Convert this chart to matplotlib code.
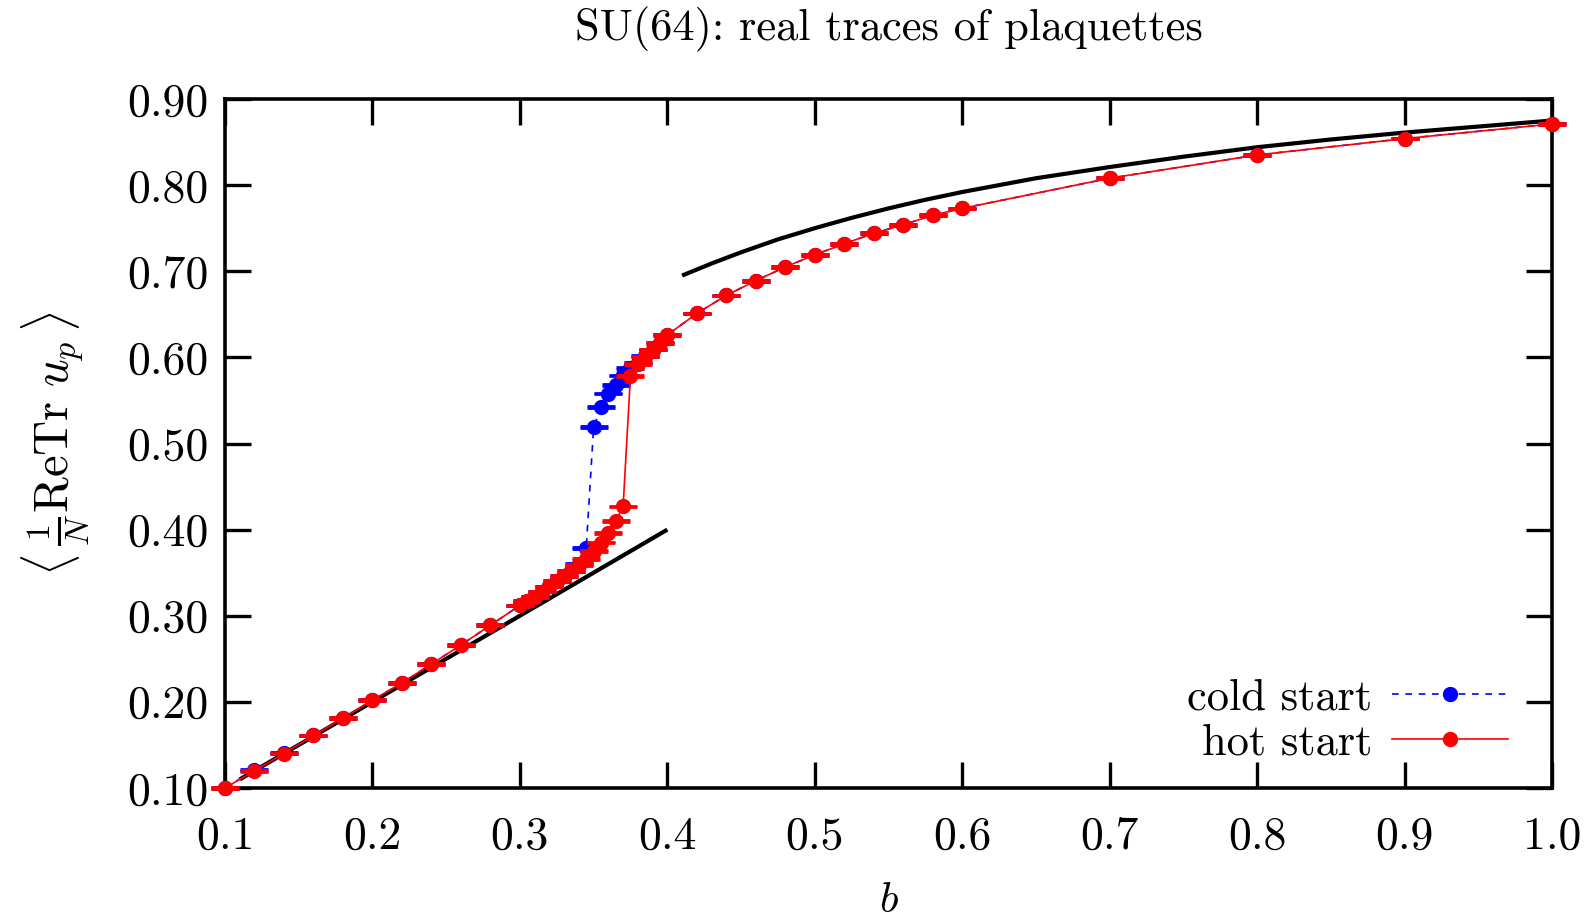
import matplotlib
matplotlib.use("Agg")
import matplotlib.pyplot as plt

plt.rcParams['font.family'] = ['cmr10', 'DejaVu Serif']
plt.rcParams['mathtext.fontset'] = 'cm'
plt.rcParams['axes.unicode_minus'] = False

# ---- data ----
b_hot = [0.10, 0.12, 0.14, 0.16, 0.18, 0.20, 0.22, 0.24, 0.26, 0.28,
         0.300, 0.305, 0.310, 0.315, 0.320, 0.325, 0.330, 0.335, 0.340, 0.345,
         0.350, 0.355, 0.360, 0.365, 0.370, 0.375, 0.380, 0.385, 0.390, 0.395,
         0.40, 0.42, 0.44, 0.46, 0.48, 0.50, 0.52, 0.54, 0.56, 0.58, 0.60,
         0.70, 0.80, 0.90, 1.00]
u_hot = [0.100, 0.120, 0.140, 0.161, 0.181, 0.202, 0.222, 0.244, 0.266, 0.289,
         0.312, 0.317, 0.322, 0.328, 0.334, 0.340, 0.346, 0.352, 0.359, 0.366,
         0.375, 0.385, 0.396, 0.410, 0.427, 0.578, 0.592, 0.601, 0.609, 0.617,
         0.626, 0.651, 0.672, 0.689, 0.705, 0.719, 0.732, 0.744, 0.754, 0.765, 0.773,
         0.808, 0.835, 0.854, 0.871]
e_hot = [0.001] * len(b_hot)

b_cold = [0.10, 0.12, 0.14, 0.16, 0.18, 0.20, 0.22, 0.24, 0.26, 0.28,
          0.300, 0.305, 0.310, 0.315, 0.320, 0.325, 0.330, 0.335, 0.340, 0.345,
          0.350, 0.355, 0.360, 0.365, 0.370, 0.375, 0.380, 0.385, 0.390, 0.395,
          0.40, 0.42, 0.44, 0.46, 0.48, 0.50, 0.52, 0.54, 0.56, 0.58, 0.60,
          0.70, 0.80, 0.90, 1.00]
u_cold = [0.100, 0.121, 0.141, 0.161, 0.181, 0.202, 0.222, 0.244, 0.266, 0.289,
          0.312, 0.317, 0.322, 0.328, 0.334, 0.340, 0.346, 0.352, 0.360, 0.379,
          0.519, 0.542, 0.558, 0.568, 0.579, 0.588, 0.594, 0.602, 0.609, 0.617,
          0.626, 0.651, 0.672, 0.689, 0.705, 0.719, 0.732, 0.744, 0.754, 0.765, 0.773,
          0.808, 0.835, 0.854, 0.871]
e_cold = [0.001] * len(b_cold)

# strong-coupling curve
b_strong = [0.11, 0.20, 0.30, 0.40]
u_strong = [0.11, 0.20, 0.30, 0.40]
# weak-coupling curve
b_weak = [0.41, 0.43, 0.45, 0.475, 0.50, 0.525, 0.55, 0.575, 0.60, 0.65,
          0.70, 0.75, 0.80, 0.85, 0.90, 0.95, 1.00]
u_weak = [0.695, 0.709, 0.722, 0.737, 0.750, 0.762, 0.773, 0.783, 0.792, 0.808,
          0.821, 0.833, 0.844, 0.853, 0.861, 0.868, 0.875]

xticks = [0.1, 0.2, 0.3, 0.4, 0.5, 0.6, 0.7, 0.8, 0.9, 1.0]
xticklabels = ["0.1", "0.2", "0.3", "0.4", "0.5", "0.6", "0.7", "0.8", "0.9", "1.0"]
yticks = [0.10, 0.20, 0.30, 0.40, 0.50, 0.60, 0.70, 0.80, 0.90]
yticklabels = ["0.10", "0.20", "0.30", "0.40", "0.50", "0.60", "0.70", "0.80", "0.90"]

# ---- figure ----
fig = plt.figure(figsize=(15.88, 9.18), dpi=100)
fig.subplots_adjust(left=225/1588, right=1552/1588, top=1-99/918, bottom=1-788/918)
ax = fig.add_subplot(111)

ax.plot(b_strong, u_strong, color='black', lw=3.0, solid_capstyle='butt', zorder=2)
ax.plot(b_weak, u_weak, color='black', lw=3.0, solid_capstyle='butt',
        solid_joinstyle='round', zorder=2)

eb_cold = ax.errorbar(b_cold, u_cold, yerr=e_cold, color='#0000ff', ls=(0, (4, 4)), lw=1.2,
                      marker='o', ms=10, capsize=10, capthick=2, elinewidth=1.2,
                      clip_on=False, zorder=3)
eb_hot = ax.errorbar(b_hot, u_hot, yerr=e_hot, color='#ff0000', ls='-', lw=1.2,
                     marker='o', ms=10, capsize=10, capthick=2, elinewidth=1.2,
                     clip_on=False, zorder=4)

ax.set_xlim(0.1, 1.0)
ax.set_ylim(0.10, 0.90)
ax.set_xticks(xticks)
ax.set_xticklabels(xticklabels)
ax.set_yticks(yticks)
ax.set_yticklabels(yticklabels)
ax.tick_params(direction='in', length=19, width=2.4, labelsize=33,
               top=True, right=True)
ax.tick_params(axis='y', pad=12)
ax.tick_params(axis='x', pad=20)
for s in ax.spines.values():
    s.set_linewidth(2.6)

ax.set_title("SU(64): real traces of plaquettes", fontsize=32, pad=42)
ax.set_xlabel(r"$b$", fontsize=31, labelpad=18)
ax.set_ylabel(r"$\langle\,\frac{1}{N}\mathrm{ReTr}\ u_p\,\rangle$", fontsize=35, labelpad=26)

leg = ax.legend(handles=[eb_cold.lines[0], eb_hot.lines[0]],
                labels=["cold start", "hot start"],
                loc='lower right', bbox_to_anchor=(0.99, -0.009),
                frameon=False, fontsize=32, markerfirst=False, numpoints=1,
                handlelength=2.6, handletextpad=0.45, labelspacing=0.1,
                borderpad=0.2)
for col in leg._legend_handle_box.get_children():
    col.align = "right"
for h in leg.legend_handles:
    h.set_markersize(10)

fig.savefig("out.png", dpi=100)
